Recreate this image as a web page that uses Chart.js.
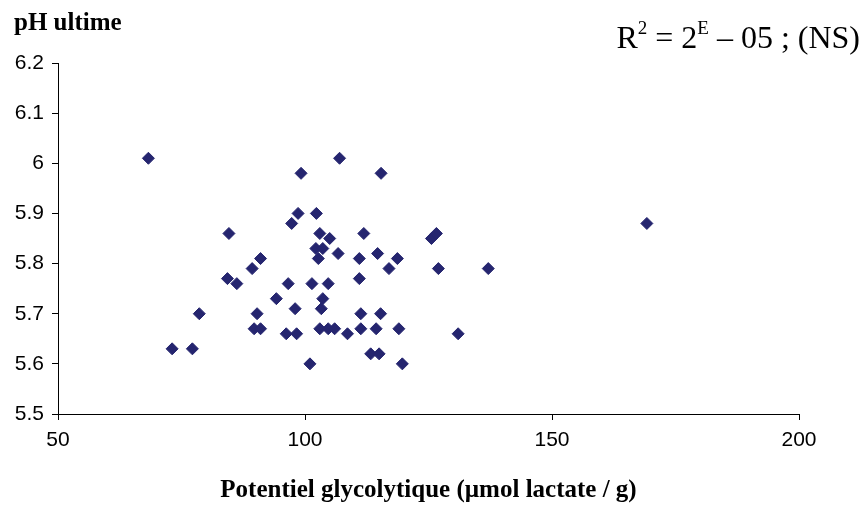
<!DOCTYPE html>
<html>
<head>
<meta charset="utf-8">
<script src="https://cdn.jsdelivr.net/npm/chart.js@4"></script>
<style>
  html, body { margin: 0; padding: 0; background: #fff; }
  #wrap { width: 866px; height: 512px; }
</style>
</head>
<body>
<div id="wrap"><canvas id="chart" width="866" height="512"></canvas></div>
<script>
// Potentiel glycolytique (x) vs pH ultime (y)
const glycoPotential = [
  68.3, 73.1, 77.2, 78.6, 84.3, 84.6, 86.2, 89.3, 89.7, 90.3,
  91.0, 91.0, 94.2, 96.2, 96.6, 97.3, 98.0, 98.3, 98.6, 99.2,
  101.0, 101.4, 102.2, 102.3, 102.7, 103.0, 103.0, 103.3, 103.6, 103.6,
  104.7, 104.7, 105.0, 106.0, 106.7, 107.0, 108.6, 111.0, 111.0, 111.3,
  111.3, 111.9, 113.3, 114.4, 114.7, 115.0, 115.3, 115.4, 117.0, 118.7,
  119.0, 119.7, 125.6, 126.6, 127.0, 131.0, 137.1, 169.2
];
const phUltime = [
  6.01, 5.63, 5.63, 5.70, 5.77, 5.86, 5.76, 5.79, 5.67, 5.70,
  5.67, 5.81, 5.73, 5.66, 5.76, 5.88, 5.71, 5.66, 5.90, 5.98,
  5.60, 5.76, 5.83, 5.90, 5.81, 5.86, 5.67, 5.71, 5.73, 5.83,
  5.76, 5.67, 5.85, 5.67, 5.82, 6.01, 5.66, 5.81, 5.77, 5.70,
  5.67, 5.86, 5.62, 5.67, 5.82, 5.62, 5.70, 5.98, 5.79, 5.81,
  5.67, 5.60, 5.85, 5.86, 5.79, 5.66, 5.79, 5.88
];
const xTicks = [50, 100, 150, 200];
const yTicks = [5.5, 5.6, 5.7, 5.8, 5.9, 6, 6.1, 6.2];

const yTitle = 'pH ultime';
const xTitle = 'Potentiel glycolytique (µmol lactate / g)';

const points = glycoPotential.map((x, i) => ({ x: x, y: phUltime[i] }));

// draws the horizontal y title and the R² note
const annotations = {
  id: 'annotations',
  afterDraw(chart) {
    const ctx = chart.ctx;
    ctx.save();
    ctx.fillStyle = '#000';
    ctx.textBaseline = 'alphabetic';
    ctx.textAlign = 'left';
    ctx.font = 'bold 25px "Liberation Serif", "Times New Roman", serif';
    ctx.fillText(yTitle, 14, 30);

    // R² = 2E – 05 ; (NS)
    const parts = [
      ['R', false], ['2', true], [' = 2', false], ['E', true], [' \u2013 05 ; (NS)', false]
    ];
    const big = '32px "Liberation Serif", "Times New Roman", serif';
    const small = '19px "Liberation Serif", "Times New Roman", serif';
    let total = 0;
    parts.forEach(p => { ctx.font = p[1] ? small : big; total += ctx.measureText(p[0]).width; });
    let x = 860 - total;
    parts.forEach(p => {
      ctx.font = p[1] ? small : big;
      ctx.fillText(p[0], x, p[1] ? 34 : 48);
      x += ctx.measureText(p[0]).width;
    });
    ctx.restore();
  }
};

const ctx = document.getElementById('chart').getContext('2d');
new Chart(ctx, {
  type: 'scatter',
  data: {
    datasets: [{
      label: yTitle,
      data: points,
      pointStyle: 'rectRot',
      pointRadius: 6,
      pointHoverRadius: 6,
      backgroundColor: '#25256f',
      borderColor: '#25256f',
      borderWidth: 1
    }]
  },
  options: {
    responsive: false,
    animation: false,
    layout: { padding: { top: 63, right: 67, left: 0, bottom: 0 } },
    plugins: {
      legend: { display: false },
      tooltip: { enabled: false }
    },
    scales: {
      x: {
        type: 'linear',
        min: 50,
        max: 200,
        afterBuildTicks: scale => { scale.ticks = xTicks.map(v => ({ value: v })); },
        afterFit: scale => { scale.height = 98; },
        border: { display: true, color: '#000', width: 1 },
        grid: { display: true, drawOnChartArea: false, drawTicks: true, tickLength: 6, color: '#000' },
        ticks: {
          color: '#000',
          padding: 8,
          maxRotation: 0,
          font: { family: '"Liberation Sans Narrow", "Liberation Sans", Arial, sans-serif', size: 21 }
        },
        title: {
          display: true,
          text: xTitle,
          color: '#000',
          padding: { top: 0, bottom: 6 },
          font: { family: '"Liberation Serif", "Times New Roman", serif', size: 25, weight: 'bold' }
        }
      },
      y: {
        type: 'linear',
        min: 5.5,
        max: 6.2,
        afterBuildTicks: scale => { scale.ticks = yTicks.map(v => ({ value: v })); },
        afterFit: scale => { scale.width = 58; },
        border: { display: true, color: '#000', width: 1 },
        grid: { display: true, drawOnChartArea: false, drawTicks: true, tickLength: 6, color: '#000' },
        ticks: {
          color: '#000',
          padding: 8,
          font: { family: '"Liberation Sans", Arial, sans-serif', size: 21 },
          callback: v => String(Number(v.toFixed(1)))
        }
      }
    }
  },
  plugins: [annotations]
});
</script>
</body>
</html>
